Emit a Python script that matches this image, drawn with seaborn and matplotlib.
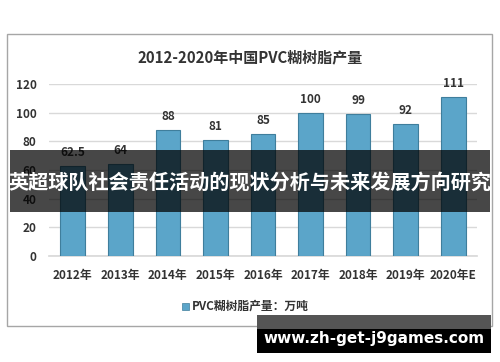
import matplotlib
matplotlib.use("Agg")
import matplotlib.pyplot as plt
import seaborn as sns
import pandas as pd
from matplotlib.patches import Rectangle

years = ["2012年", "2013年", "2014年", "2015年", "2016年", "2017年", "2018年", "2019年", "2020年E"]
values = [62.5, 64, 88, 81, 85, 100, 99, 92, 111]
value_labels = ["62.5", "64", "88", "81", "85", "100", "99", "92", "111"]
y_ticks = [0, 20, 40, 60, 80, 100, 120]
title = "2012-2020年中国PVC糊树脂产量"
legend_label = "PVC糊树脂产量：万吨"
banner = "英超球队社会责任活动的现状分析与未来发展方向研究"
watermark = "www.zh-get-j9games.com"

sns.set_theme(style="white")
plt.rcParams['font.family'] = ['Noto Sans CJK SC', 'DejaVu Sans']

df = pd.DataFrame({"year": years, "value": values})

fig = plt.figure(figsize=(5, 3.62), dpi=100)
fig.patch.set_facecolor("white")

# chart border
fig.patches.append(Rectangle((7/500, 1-326/362), 485/500, 292/362, transform=fig.transFigure,
                             fill=False, edgecolor="#A6A6A6", linewidth=1.0, zorder=0))

ax = fig.add_axes([49/500, 1-256/362, 428/500, 172/362])
sns.barplot(data=df, x="year", y="value", ax=ax, color="#5BA5C9", width=0.52,
            edgecolor="#3F7E9C", linewidth=0.8, saturation=1, zorder=3)
ax.set_xlim(-0.5, 8.5)
ax.set_ylim(0, 120)
ax.set_yticks(y_ticks)
ax.set_yticklabels([str(t) for t in y_ticks], fontsize=8.5, fontweight="bold", color="#333333")
ax.set_xticks(range(len(years)))
ax.set_xticklabels(years, fontsize=8.5, fontweight="bold", color="#333333")
ax.tick_params(axis="y", length=0, pad=9)
ax.tick_params(axis="x", length=0, pad=9)
ax.yaxis.grid(True, color="#D9D9D9", linewidth=1.0, zorder=0)
ax.set_axisbelow(True)
for s in ["top", "right", "left"]:
    ax.spines[s].set_visible(False)
ax.spines["bottom"].set_color("#D9D9D9")
ax.set_xlabel("")
ax.set_ylabel("")
ax.bar_label(ax.containers[0], labels=value_labels, padding=5, fontsize=8.5,
             fontweight="bold", color="#333333")

fig.text(0.5, 1-57/362, title, ha="center", va="center", fontsize=10.8,
         fontweight="bold", color="#333333")

# legend
fig.patches.append(Rectangle((182/500, 1-310/362), 7/500, 7/362, transform=fig.transFigure,
                             facecolor="#5BA5C9", edgecolor="#3F7E9C", linewidth=0.5))
fig.text(192/500, 1-306/362, legend_label, ha="left", va="center", fontsize=8.5,
         fontweight="bold", color="#333333")

# banner overlay
fig.patches.append(Rectangle((10/500, 1-212/362), 480/500, 62/362, transform=fig.transFigure,
                             facecolor="black", alpha=0.72, edgecolor="none", zorder=10))
fig.text(0.5, 1-182/362, banner, ha="center", va="center", fontsize=14.5,
         fontweight="bold", color="white", zorder=11)

# watermark
fig.patches.append(Rectangle((257/500, 1-329/362), 234/500, 14/362, transform=fig.transFigure,
                             facecolor="#555555", edgecolor="none", zorder=10))
fig.patches.append(Rectangle((257/500, 1-353/362), 234/500, 24/362, transform=fig.transFigure,
                             facecolor="black", edgecolor="none", zorder=10))
fig.text(374/500, 1-338/362, watermark, ha="center", va="center", fontsize=11,
         fontweight="bold", color="white", family=["DejaVu Sans"], zorder=11)

fig.savefig("out.png", dpi=100)
